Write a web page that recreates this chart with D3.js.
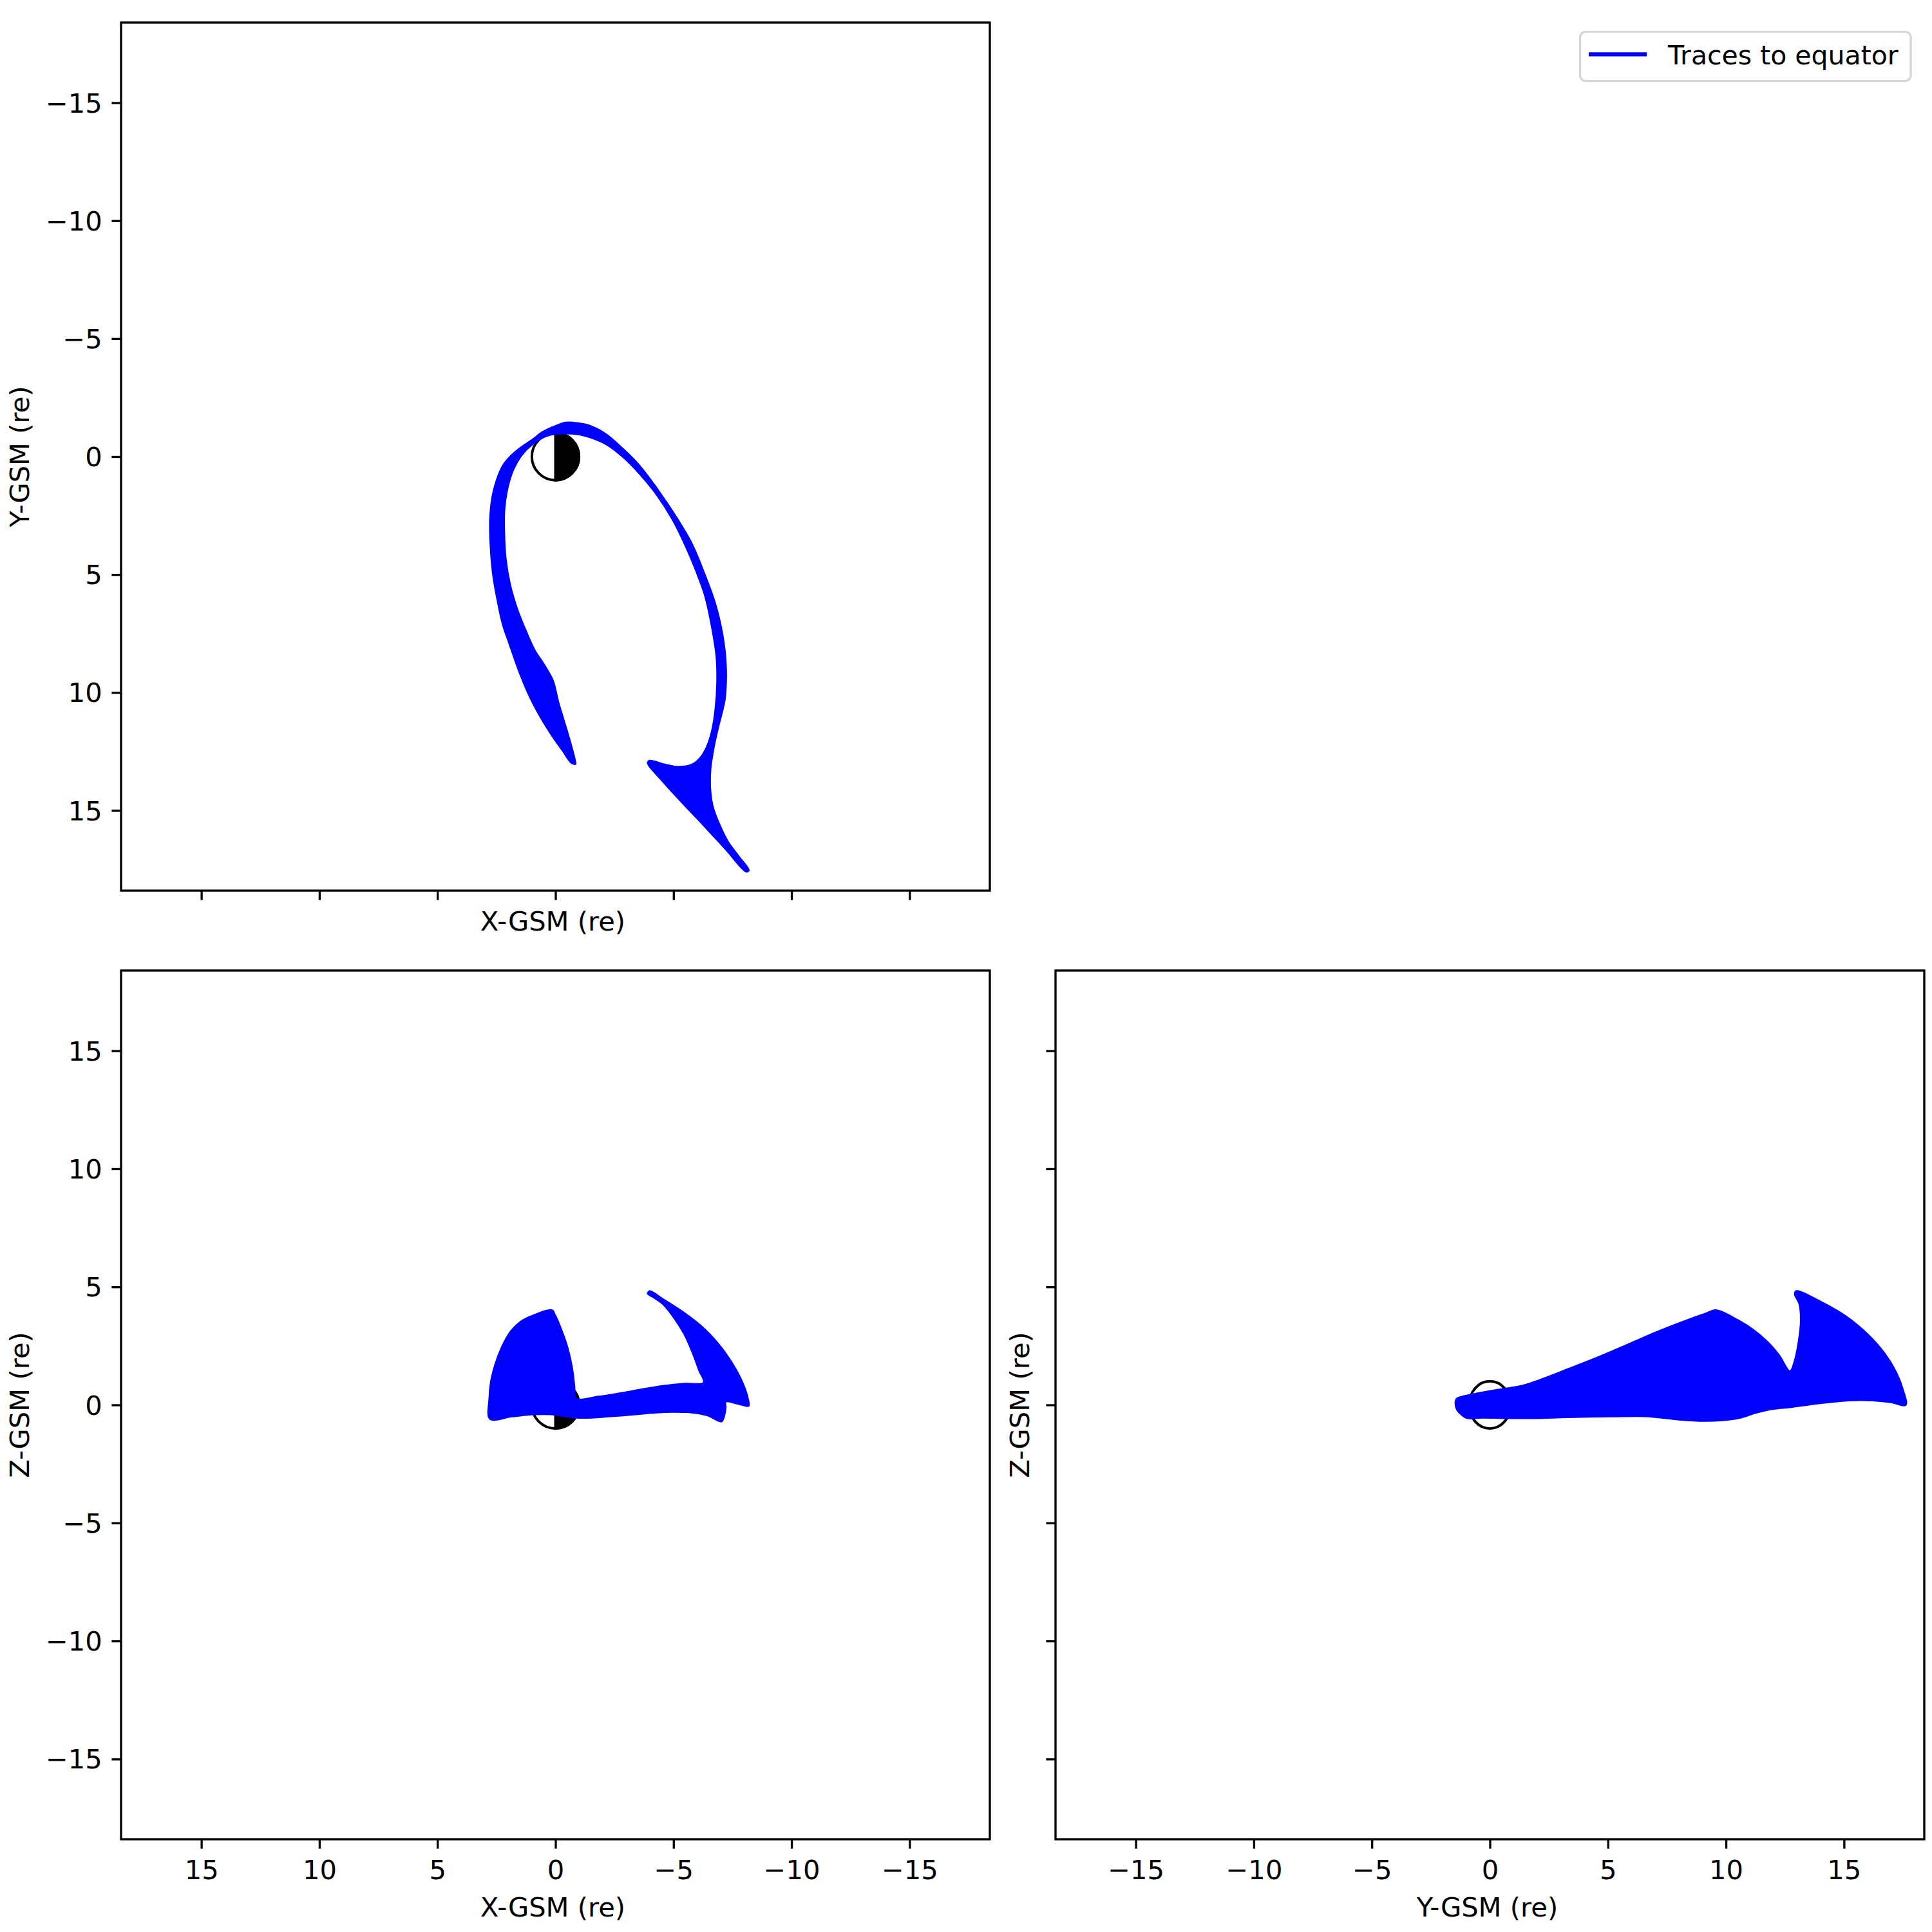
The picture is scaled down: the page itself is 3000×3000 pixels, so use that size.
<!DOCTYPE html>
<html><head><meta charset="utf-8">
<script src="https://cdn.jsdelivr.net/npm/d3@7"></script>
<style>body{margin:0;background:#fff} text{font-family:"DejaVu Sans",sans-serif}</style>
</head><body><svg id="c" width="3000" height="3000"></svg>
<script>
// ---------------- data ----------------
const axisLimit = 18.4;
const tickValues = [-15, -10, -5, 0, 5, 10, 15];
const earthRadius = 1;
const legendLabel = "Traces to equator";
const xLabel = "X-GSM (re)", yLabel = "Y-GSM (re)", zLabel = "Z-GSM (re)";

// outline of the swept field-line traces, X-Y projection [X, Y]
const xyTrace = [[-0.85,13.04],[-0.67,12.99],[-0.31,12.49],[0.14,11.85],[0.60,11.12],[1.06,10.26],[1.51,9.21],[1.96,7.94],[2.24,7.12],[2.46,6.12],[2.65,5.03],[2.76,3.76],[2.78,2.67],[2.69,1.75],[2.51,1.03],[2.24,0.39],[1.87,-0.06],[1.42,-0.43],[0.96,-0.74],[0.60,-1.02],[0.14,-1.25],[-0.40,-1.45],[-0.76,-1.45],[-1.40,-1.34],[-2.13,-0.97],[-2.86,-0.34],[-3.58,0.39],[-4.40,1.48],[-5.13,2.57],[-5.77,3.66],[-6.31,4.94],[-6.77,6.21],[-7.04,7.30],[-7.18,8.21],[-7.22,8.67],[-7.24,9.39],[-7.18,10.31],[-7.04,10.94],[-6.90,11.49],[-6.72,12.31],[-6.58,13.21],[-6.57,14.13],[-6.68,14.85],[-6.95,15.58],[-7.31,16.31],[-7.77,16.94],[-8.20,17.54],[-8.08,17.60],[-7.22,16.67],[-6.22,15.58],[-5.31,14.62],[-4.49,13.72],[-3.90,12.99],[-3.99,12.88],[-4.58,13.03],[-5.22,13.14],[-5.77,13.05],[-6.13,12.76],[-6.40,12.31],[-6.63,11.58],[-6.77,10.67],[-6.84,9.58],[-6.81,8.49],[-6.58,7.03],[-6.31,5.85],[-5.95,4.85],[-5.49,3.76],[-4.95,2.67],[-4.31,1.66],[-3.58,0.76],[-2.86,0.03],[-2.13,-0.52],[-1.22,-0.88],[-0.49,-0.97],[0.33,-0.88],[0.96,-0.52],[1.42,-0.06],[1.78,0.57],[2.01,1.30],[2.15,2.21],[2.16,3.21],[2.10,4.30],[1.92,5.39],[1.60,6.49],[1.24,7.39],[0.87,8.21],[0.51,8.76],[0.10,9.49],[-0.13,10.40],[-0.40,11.30],[-0.67,12.22],[-0.85,12.94]];

// X-Z projection [X, Z]
const xzTrace = [[2.78,-0.60],[2.81,0.27],[2.74,1.00],[2.56,1.72],[2.28,2.45],[1.92,3.09],[1.47,3.54],[0.92,3.81],[0.14,4.02],[0.01,3.81],[-0.26,3.18],[-0.54,2.36],[-0.72,1.54],[-0.81,0.81],[-0.88,0.27],[-1.81,0.36],[-2.72,0.50],[-3.63,0.66],[-4.54,0.81],[-5.45,0.91],[-6.27,0.95],[-6.08,1.45],[-5.81,2.18],[-5.45,2.99],[-4.99,3.72],[-4.54,4.27],[-4.08,4.59],[-3.90,4.71],[-3.99,4.83],[-4.54,4.50],[-5.45,3.91],[-6.36,3.18],[-7.09,2.36],[-7.63,1.54],[-7.99,0.81],[-8.16,0.27],[-8.19,-0.05],[-7.72,0.04],[-7.22,0.13],[-7.22,-0.10],[-7.18,-0.37],[-7.04,-0.71],[-6.45,-0.46],[-5.81,-0.34],[-4.99,-0.31],[-4.08,-0.35],[-3.17,-0.43],[-2.26,-0.50],[-1.54,-0.55],[-0.90,-0.55],[-0.44,-0.50],[0.19,-0.41],[0.92,-0.41],[1.83,-0.50]];

// Y-Z projection [Y, Z]
const yzTrace = [[-1.41,0.27],[-1.09,0.38],[-0.46,0.51],[0.31,0.65],[1.33,0.81],[1.96,1.01],[3.24,1.50],[4.51,2.00],[5.78,2.54],[7.05,3.09],[8.33,3.59],[9.09,3.86],[9.60,4.02],[10.36,3.68],[11.12,3.22],[11.76,2.68],[12.27,2.09],[12.71,1.43],[12.91,1.90],[13.06,2.63],[13.16,3.54],[13.10,4.27],[12.91,4.68],[12.97,4.83],[14.05,4.36],[15.07,3.77],[15.96,3.04],[16.73,2.18],[17.23,1.36],[17.51,0.63],[17.62,-0.01],[16.98,0.10],[16.22,0.18],[15.20,0.18],[14.05,0.07],[12.78,-0.10],[11.89,-0.20],[11.25,-0.35],[10.62,-0.55],[9.85,-0.66],[9.09,-0.69],[8.07,-0.64],[7.05,-0.53],[6.54,-0.49],[5.14,-0.50],[3.24,-0.53],[1.96,-0.57],[0.69,-0.57],[-0.33,-0.55],[-0.97,-0.57],[-1.22,-0.41],[-1.41,-0.19],[-1.47,0.09]];

// ---------------- drawing ----------------
const svg = d3.select("#c");
svg.append("rect").attr("width", 3000).attr("height", 3000).attr("fill", "#fff");
const FS = 41.67, LW = 3.33, TL = 14.6, BLUE = "#0000ff";
const fmt = d => d < 0 ? "\u2212" + Math.abs(d) : String(d);

const L1 = 188, R1 = 1537, L2 = 1639, R2 = 2988;
const T1 = 35, B1 = 1383, T2 = 1507, B2 = 2856;

const xLeft = d3.scaleLinear().domain([axisLimit, -axisLimit]).range([L1, R1]);
const yTop = d3.scaleLinear().domain([-axisLimit, axisLimit]).range([T1, B1]);
const zBot = d3.scaleLinear().domain([axisLimit, -axisLimit]).range([T2, B2]);
const yRight = d3.scaleLinear().domain([-axisLimit, axisLimit]).range([L2, R2]);

function panel(sx, sy, trace, halfDark, rxScale) {
  const g = svg.append("g");
  const [x0, x1] = sx.range(), [y0, y1] = sy.range();
  const cx = sx(0), cy = sy(0);
  const rx = Math.abs(sx(earthRadius) - sx(0)) * rxScale, ry = Math.abs(sy(earthRadius) - sy(0));
  g.append("ellipse").attr("cx", cx).attr("cy", cy).attr("rx", rx).attr("ry", ry)
    .attr("fill", "#fff").attr("stroke", "#000").attr("stroke-width", 4);
  if (halfDark) {
    const dir = sx(-earthRadius) > sx(0) ? 1 : 0;
    g.append("path")
      .attr("d", `M${cx},${cy - ry} A${rx},${ry} 0 0 ${dir} ${cx},${cy + ry} Z`)
      .attr("fill", "#000").attr("stroke", "#000").attr("stroke-width", 4);
  }
  const line = d3.line().x(d => sx(d[0])).y(d => sy(d[1])).curve(d3.curveCatmullRomClosed.alpha(0.5));
  g.append("path").attr("d", line(trace)).attr("fill", BLUE)
    .attr("stroke", BLUE).attr("stroke-width", 2).attr("stroke-linejoin", "round");
  g.append("rect").attr("x", Math.min(x0, x1)).attr("y", Math.min(y0, y1))
    .attr("width", Math.abs(x1 - x0)).attr("height", Math.abs(y1 - y0))
    .attr("fill", "none").attr("stroke", "#000").attr("stroke-width", LW);
}

function styleAxis(g, dy) {
  g.attr("font-size", FS).attr("font-family", "DejaVu Sans");
  g.select(".domain").remove();
  g.selectAll(".tick line").attr("stroke-width", LW);
  g.selectAll(".tick text").attr("fill", "#000");
  if (dy) g.selectAll(".tick text").attr("dy", dy);
}
function bottomAxis(scale, y, showLabels) {
  const a = d3.axisBottom(scale).tickValues(tickValues).tickSize(TL).tickPadding(TL).tickSizeOuter(0)
    .tickFormat(showLabels ? fmt : () => "");
  const g = svg.append("g").attr("transform", `translate(0,${y})`).call(a);
  styleAxis(g, "0.79em");
}
function leftAxis(scale, x, showLabels) {
  const a = d3.axisLeft(scale).tickValues(tickValues).tickSize(TL).tickPadding(TL).tickSizeOuter(0)
    .tickFormat(showLabels ? fmt : () => "");
  const g = svg.append("g").attr("transform", `translate(${x},0)`).call(a);
  styleAxis(g, "0.35em");
}
function hLabel(text, x, y) {
  svg.append("text").attr("x", x).attr("y", y).attr("text-anchor", "middle")
    .attr("font-size", FS).attr("fill", "#000").text(text);
}
function vLabel(text, x, y) {
  svg.append("text").attr("transform", `translate(${x},${y}) rotate(-90)`)
    .attr("text-anchor", "middle").attr("font-size", FS).attr("fill", "#000").text(text);
}

// top-left: X-Y
panel(xLeft, yTop, xyTrace, true, 1);
bottomAxis(xLeft, B1, false);
leftAxis(yTop, L1, true);
hLabel(xLabel, (L1 + R1) / 2 - 4, 1445);
vLabel(yLabel, 45, (T1 + B1) / 2);

// bottom-left: X-Z
panel(xLeft, zBot, xzTrace, true, 1);
bottomAxis(xLeft, B2, true);
leftAxis(zBot, L1, true);
hLabel(xLabel, (L1 + R1) / 2 - 4, 2976);
vLabel(zLabel, 45, (T2 + B2) / 2);

// bottom-right: Y-Z
panel(yRight, zBot, yzTrace, false, 0.88);
bottomAxis(yRight, B2, true);
leftAxis(zBot, L2, false);
hLabel(yLabel, (L2 + R2) / 2 - 4, 2976);
vLabel(zLabel, 1598, (T2 + B2) / 2);

// legend
const lg = svg.append("g");
lg.append("rect").attr("x", 2453.6).attr("y", 49.3).attr("width", 513.4).attr("height", 76.4)
  .attr("rx", 8.3).attr("fill", "#fff").attr("stroke", "#d6d6d6").attr("stroke-width", LW);
lg.append("line").attr("x1", 2467).attr("x2", 2557).attr("y1", 84.3).attr("y2", 84.3)
  .attr("stroke", BLUE).attr("stroke-width", 6.25);
lg.append("text").attr("x", 2590).attr("y", 100).attr("font-size", 41).attr("fill", "#000").text(legendLabel);
</script></body></html>
